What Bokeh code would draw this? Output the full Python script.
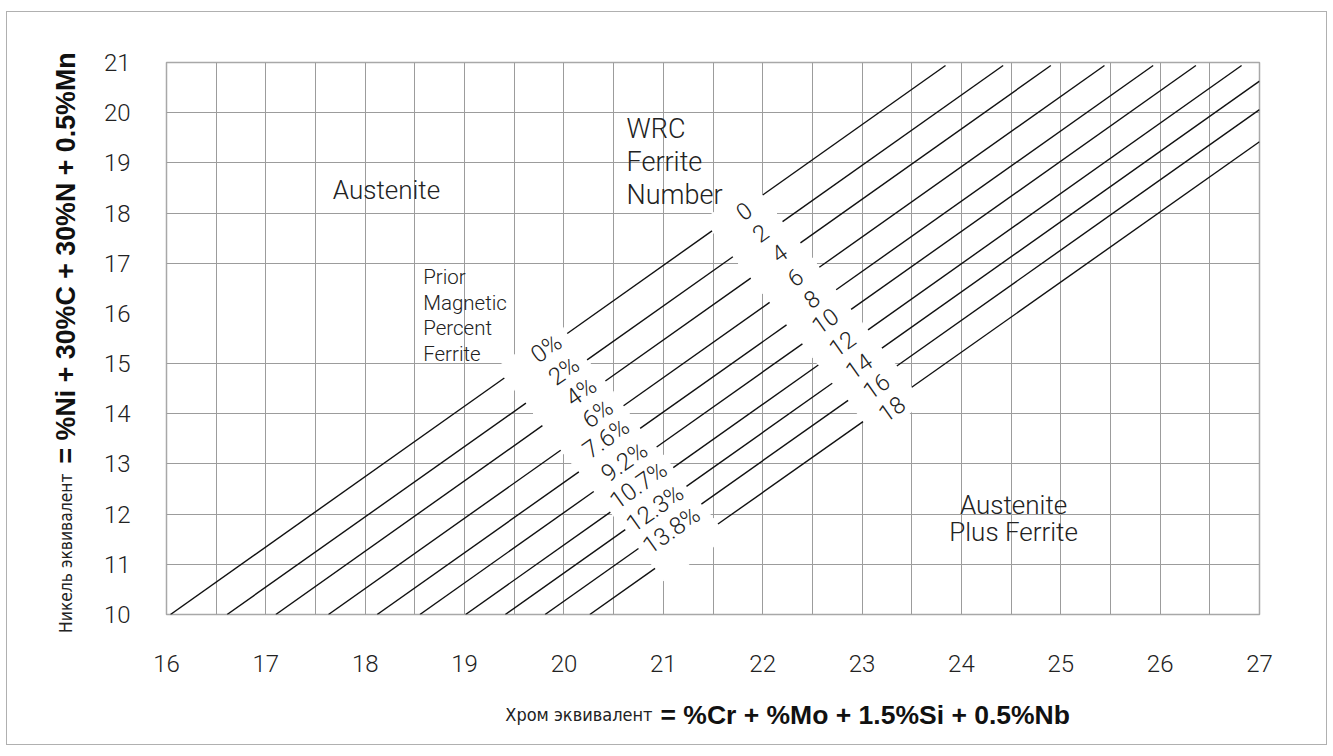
import numpy as np
from bokeh.plotting import figure
from bokeh.models import FixedTicker, Title
from bokeh.core.properties import value
from bokeh.embed import file_html
from bokeh.resources import INLINE

# ---------------- data ----------------
cr_ticks = list(range(16, 28))
ni_ticks = list(range(10, 22))
ni_grid = [10, 11, 12, 13, 14, 15, 17, 18, 19, 20, 21]

fn_labels = ["0", "2", "4", "6", "8", "10", "12", "14", "16", "18"]
pct_labels = ["0%", "2%", "4%", "6%", "7.6%", "9.2%", "10.7%", "12.3%", "13.8%"]

# iso-ferrite lines: Cr-eq where Ni-eq = 10, and the upper end point
line_cr_start = [16.04, 16.61, 17.10, 17.63, 18.12, 18.55, 19.01, 19.41, 19.81, 20.26]
line_cr_end = [23.84, 24.42, 24.90, 25.44, 25.93, 26.36, 26.82, 27.0, 27.0, 27.0]
line_ni_end = [20.94, 20.94, 20.94, 20.94, 20.94, 20.94, 20.94, 20.63, 20.06, 19.42]

# gaps in each line (Cr-eq) where the labels sit
pct_gap_lo = [19.40, 19.617, 19.783, 19.967, 20.15, 20.30, 20.467, 20.617, 20.75, 20.917]
pct_gap_hi = [20.033, 20.233, 20.417, 20.60, 20.767, 20.933, 21.10, 21.233, 21.383, 21.55]
fn_gap_lo = [21.49, 21.70, 21.88, 22.07, 22.24, 22.40, 22.56, 22.70, 22.86, 23.01]
fn_gap_hi = [22.0, 22.2, 22.38, 22.57, 22.74, 22.89, 23.06, 23.2, 23.35, 23.50]

# label anchor positions (data coordinates)
pct_lab_x = [19.823, 20.0, 20.173, 20.34, 20.425, 20.608, 20.75, 20.917, 21.083]
pct_lab_y = [15.30, 14.853, 14.433, 14.0, 13.507, 13.04, 12.573, 12.113, 11.68]
fn_lab_x = [21.81, 21.977, 22.167, 22.327, 22.493, 22.627, 22.8, 22.967, 23.143, 23.30]
fn_lab_y = [18.04, 17.6, 17.2, 16.72, 16.287, 15.853, 15.4, 14.953, 14.553, 14.10]

# ---------------- helpers ----------------
FW, FH = 1093, 552
PX_X, PX_Y = FW / 11, FH / 11  # pixels per data unit


def ni_at(i, cr):
    x0, x1, y1 = line_cr_start[i], line_cr_end[i], line_ni_end[i]
    return 10 + (cr - x0) * (y1 - 10) / (x1 - x0)


seg_xs, seg_ys = [], []
for i in range(len(line_cr_start)):
    pts = [(line_cr_start[i], pct_gap_lo[i]), (pct_gap_hi[i], fn_gap_lo[i]), (fn_gap_hi[i], line_cr_end[i])]
    for a, b in pts:
        seg_xs.append([a, b])
        seg_ys.append([ni_at(i, a), ni_at(i, b)])


def band(lo, hi, top_px, bot_px):
    """white band joining the gap ends of all lines, with caps past the first/last line"""
    n = len(lo)
    L = [(lo[i], ni_at(i, lo[i])) for i in range(n)]
    H = [(hi[i], ni_at(i, hi[i])) for i in range(n)]
    ang = np.arctan(1.4 * PX_Y / PX_X)
    ux, uy = np.sin(ang), np.cos(ang)  # perpendicular (down-right in screen)

    def shift(pt, d):
        return (pt[0] + d * ux / PX_X, pt[1] - d * uy / PX_Y)

    poly = [shift(L[0], -top_px)] + L + [shift(L[-1], bot_px), shift(H[-1], bot_px)] + H[::-1] + [shift(H[0], -top_px)]
    return [q[0] for q in poly], [q[1] for q in poly]


bx1, by1 = band(pct_gap_lo, pct_gap_hi, 13, 16)
bx2, by2 = band(fn_gap_lo, fn_gap_hi, 14, 20)

LIGHT = "Roboto Light"
TXT = "#222222"
ANG = np.arctan(1.4 * PX_Y / PX_X)

p = figure(
    x_range=(16, 27), y_range=(10, 21),
    frame_width=FW, frame_height=FH,
    min_border_left=159, min_border_right=67, min_border_top=50, min_border_bottom=130,
    output_backend="svg", toolbar_location=None,
    background_fill_color="white", border_fill_color="white",
)
p.styles = {"border": "1px solid #b0b0b0", "margin-left": "6px", "margin-top": "11px"}
p.outline_line_color = "#a8a8a8"
p.outline_line_width = 1.5

p.xgrid.ticker = FixedTicker(ticks=list(np.arange(16, 27.01, 0.5)))
p.ygrid.ticker = FixedTicker(ticks=ni_grid)
for g in (p.xgrid, p.ygrid):
    g.grid_line_color = "#9c9c9c"
    g.grid_line_width = 1

p.xaxis.ticker = FixedTicker(ticks=cr_ticks)
p.yaxis.ticker = FixedTicker(ticks=ni_ticks)
for ax in (p.xaxis, p.yaxis):
    ax.axis_line_color = None
    ax.major_tick_line_color = None
    ax.minor_tick_line_color = None
    ax.major_label_text_font = LIGHT
    ax.major_label_text_font_size = "24px"
    ax.major_label_text_color = TXT
p.xaxis.major_label_standoff = 34
p.yaxis.major_label_standoff = 30

# white bands behind the labels (hide the grid there)
p.patches(xs=[bx1, bx2], ys=[by1, by2], fill_color="white", line_color="white", line_width=1)

p.multi_line(xs=seg_xs, ys=seg_ys, line_color="#111111", line_width=1.4)

p.text(x=pct_lab_x, y=pct_lab_y, text=pct_labels, angle=ANG,
       text_align="center", text_baseline="middle",
       text_font=value(LIGHT), text_font_size="24px", text_color=TXT)
p.text(x=fn_lab_x, y=fn_lab_y, text=fn_labels, angle=ANG,
       text_align="center", text_baseline="middle",
       text_font=value(LIGHT), text_font_size="23.5px", text_color=TXT)

# region labels
p.text(x=[18.214], y=[18.46], text=["Austenite"], text_align="center", text_baseline="middle",
       text_font=value(LIGHT), text_font_size="26px", text_color=TXT)
p.text(x=[20.63] * 3, y=[19.68, 19.01, 18.35], text=["WRC", "Ferrite", "Number"],
       text_align="left", text_baseline="middle",
       text_font=value(LIGHT), text_font_size="27px", text_color=TXT)
p.text(x=[18.583] * 4, y=[16.73, 16.21, 15.70, 15.19],
       text=["Prior", "Magnetic", "Percent", "Ferrite"],
       text_align="left", text_baseline="middle",
       text_font=value(LIGHT), text_font_size="20.5px", text_color=TXT)
p.text(x=[24.525] * 2, y=[12.18, 11.64], text=["Austenite", "Plus Ferrite"],
       text_align="center", text_baseline="middle",
       text_font=value(LIGHT), text_font_size="26px", text_color=TXT)


# axis titles (mixed fonts on one line): a spacer title, then two zero-thickness titles
def spacer(k):
    return Title(text=" ", text_font_size="1px", standoff=k)


NARROW = "DejaVu Sans Condensed"
p.add_layout(spacer(32), "left")
p.add_layout(Title(text="Никель эквивалент", align="right", offset=411, vertical_align="middle",
                   standoff=-22, text_font=NARROW, text_font_size="17.3px",
                   text_font_style="normal", text_color=TXT), "left")
p.add_layout(Title(text="= %Ni + 30%C + 30%N + 0.5%Mn", align="left", offset=151,
                   vertical_align="middle", standoff=-33, text_font="Liberation Sans",
                   text_font_size="26.8px", text_font_style="bold", text_color="#111111"), "left")

p.add_layout(spacer(37), "below")
p.add_layout(Title(text="Хром эквивалент", align="right", offset=607, vertical_align="middle",
                   standoff=-23, text_font=NARROW, text_font_size="18px",
                   text_font_style="normal", text_color=TXT), "below")
p.add_layout(Title(text="= %Cr + %Mo + 1.5%Si + 0.5%Nb", align="left", offset=494,
                   vertical_align="middle", standoff=-32, text_font="Liberation Sans",
                   text_font_size="26.5px", text_font_style="bold", text_color="#111111"), "below")

open("out.html", "w").write(file_html(p, INLINE))
